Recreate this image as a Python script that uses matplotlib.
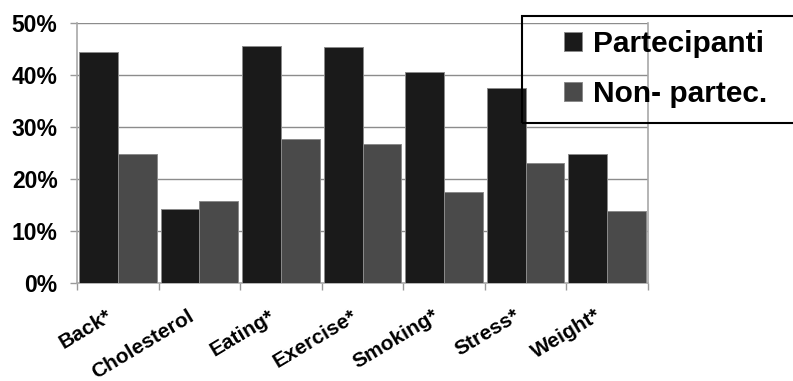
import matplotlib.pyplot as plt
from matplotlib.patches import Rectangle
from matplotlib.ticker import PercentFormatter
from matplotlib.transforms import ScaledTranslation
import numpy as np

plt.rcParams['font.family'] = ['Liberation Sans', 'DejaVu Sans']
plt.rcParams['font.weight'] = 'bold'

# Dati: percentuale per area tematica
categorie = ['Back*', 'Cholesterol', 'Eating*', 'Exercise*', 'Smoking*', 'Stress*', 'Weight*']
partecipanti = [44.4, 14.2, 45.6, 45.3, 40.6, 37.5, 24.8]
non_partecipanti = [24.8, 15.9, 27.8, 26.7, 17.6, 23.1, 13.9]
serie = ['Partecipanti', 'Non- partec.']

W, H = 793, 381
fig = plt.figure(figsize=(W / 100, H / 100), dpi=100)
ax = fig.add_axes([77 / W, 1 - 283.3 / H, (648 - 77) / W, (283.3 - 23) / H])

x = np.arange(len(categorie))
larghezza = 0.475
ax.bar(x - larghezza / 2, partecipanti, larghezza, color='#1a1a1a',
       edgecolor='#8a8a8a', linewidth=0.7, label=serie[0], zorder=3)
ax.bar(x + larghezza / 2, non_partecipanti, larghezza, color='#4a4a4a',
       edgecolor='#8a8a8a', linewidth=0.7, label=serie[1], zorder=3)

ax.set_xlim(-0.5, len(categorie) - 0.5)
ax.set_ylim(0, 50)
ax.set_yticks(range(0, 51, 10))
ax.yaxis.set_major_formatter(PercentFormatter(decimals=0))
ax.grid(axis='y', color='#8c8c8c', linewidth=1, zorder=0)

# Tacche ai confini delle categorie, etichette al centro
ax.set_xticks(np.arange(-0.5, len(categorie), 1))
ax.set_xticklabels([])
ax.set_xticks(x, minor=True)
ax.set_xticklabels(categorie, minor=True, rotation=31, ha='right',
                   rotation_mode='anchor', fontsize=15, fontweight='bold')
ax.tick_params(axis='x', which='minor', length=0, pad=16.5)
ax.tick_params(axis='both', which='major', direction='out', length=5,
               color='#999999', width=1)
ax.tick_params(axis='y', labelsize=16.5, pad=9)
for lab in ax.get_yticklabels():
    lab.set_fontweight('bold')
for lab in ax.get_xticklabels(minor=True):
    lab.set_transform(lab.get_transform() + ScaledTranslation(-0.12, 0, fig.dpi_scale_trans))

for lato in ['left', 'bottom', 'right']:
    ax.spines[lato].set_color('#a8a8a8')
    ax.spines[lato].set_linewidth(1.2)
ax.spines['top'].set_visible(False)

# Riquadro della legenda (esce oltre il bordo destro)
fig.patches.append(Rectangle((522 / W, 1 - 122.7 / H), 300 / W, 107 / H,
                             transform=fig.transFigure, fill=False,
                             edgecolor='black', linewidth=1.5, zorder=5))
fig.legend(loc='center left', bbox_to_anchor=(564 / W, 1 - 69 / H),
           frameon=False, borderpad=0, borderaxespad=0,
           handlelength=0.6, handleheight=0.6, handletextpad=0.38,
           labelspacing=0.75, prop={'size': 21.5, 'weight': 'bold'})

fig.savefig('out.png', dpi=100)
